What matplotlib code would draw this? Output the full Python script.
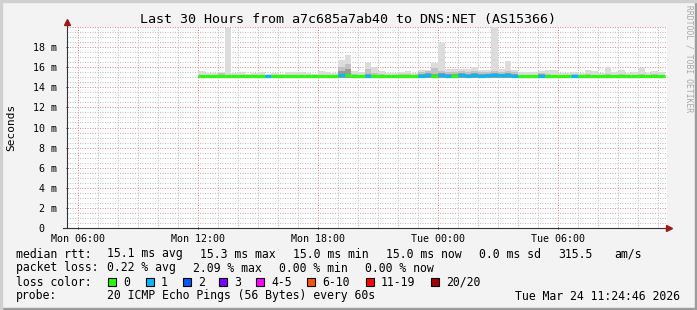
import matplotlib
matplotlib.use('Agg')
import matplotlib.pyplot as plt
import numpy as np
from matplotlib.patches import Rectangle

plt.rcParams['font.family'] = ['DejaVu Sans Mono']

# data: 20 minute bins starting Mon 12:00 (hours since Mon 00:00)
start_hour = 12.0
bin_hours = 1 / 3

# median rtt (ms)
median = [15.1, 15.1, 15.1, 15.1, 15.1, 15.1, 15.1, 15.1, 15.1, 15.1,
          15.1, 15.1, 15.1, 15.1, 15.1, 15.1, 15.1, 15.1, 15.1, 15.1,
          15.1, 15.2, 15.2, 15.1, 15.1, 15.15, 15.1, 15.1, 15.1, 15.1,
          15.1, 15.1, 15.1, 15.15, 15.2, 15.1, 15.25, 15.15, 15.1, 15.2,
          15.15, 15.2, 15.15, 15.2, 15.25, 15.2, 15.25, 15.15, 15.1, 15.1,
          15.1, 15.15, 15.1, 15.1, 15.1, 15.1, 15.1, 15.1, 15.1, 15.1,
          15.1, 15.1, 15.1, 15.1, 15.1, 15.1, 15.1, 15.1, 15.15, 15.1]
# highest ping in bin (ms)
top = [15.6, 15.4, 15.4, 15.5, 19.9, 15.4, 15.5, 15.3, 15.4, 15.5,
       15.3, 15.4, 15.3, 15.5, 15.5, 15.5, 15.4, 15.3, 15.6, 15.5,
       15.4, 16.7, 17.2, 15.65, 15.5, 16.5, 16.0, 15.65, 15.4, 15.4,
       15.55, 15.6, 15.4, 15.75, 15.75, 16.4, 18.4, 15.8, 15.8, 15.8,
       15.8, 16.0, 15.7, 15.7, 20.0, 15.8, 16.6, 15.7, 15.5, 15.55,
       15.5, 15.6, 15.7, 15.7, 15.4, 15.45, 15.5, 15.4, 15.75, 15.6,
       15.4, 16.0, 15.5, 15.7, 15.4, 15.5, 15.95, 15.4, 15.65, 15.5]
# upper smoke band (ms)
upper = [15.25, 15.25, 15.25, 15.45, 15.25, 15.25, 15.25, 15.25, 15.25, 15.25,
         15.25, 15.25, 15.25, 15.25, 15.25, 15.25, 15.25, 15.25, 15.25, 15.25,
         15.25, 16.0, 16.3, 15.3, 15.25, 15.8, 15.4, 15.3, 15.25, 15.25,
         15.3, 15.3, 15.25, 15.55, 15.6, 15.9, 15.6, 15.55, 15.5, 15.6,
         15.55, 15.6, 15.5, 15.55, 15.6, 15.55, 15.6, 15.5, 15.25, 15.25,
         15.25, 15.45, 15.3, 15.25, 15.25, 15.25, 15.3, 15.25, 15.3, 15.25,
         15.25, 15.3, 15.25, 15.3, 15.25, 15.25, 15.3, 15.25, 15.35, 15.25]
# dark core of the smoke (ms)
core = [15.0, 15.0, 15.0, 15.0, 15.0, 15.0, 15.0, 15.0, 15.0, 15.0,
        15.0, 15.0, 15.0, 15.0, 15.0, 15.0, 15.0, 15.0, 15.0, 15.0,
        15.0, 15.6, 15.8, 15.0, 15.0, 15.35, 15.0, 15.0, 15.0, 15.0,
        15.0, 15.0, 15.0, 15.35, 15.4, 15.3, 15.4, 15.35, 15.3, 15.4,
        15.35, 15.4, 15.3, 15.35, 15.4, 15.35, 15.4, 15.3, 15.0, 15.0,
        15.0, 15.3, 15.0, 15.0, 15.0, 15.0, 15.0, 15.0, 15.0, 15.0,
        15.0, 15.0, 15.0, 15.0, 15.0, 15.0, 15.0, 15.0, 15.2, 15.0]
# lost pings out of 20
loss = [0, 0, 0, 0, 0, 0, 0, 0, 0, 0,
        1, 0, 0, 0, 0, 0, 0, 0, 0, 0,
        0, 1, 0, 0, 0, 1, 0, 0, 0, 0,
        0, 0, 0, 1, 1, 0, 1, 1, 0, 1,
        1, 1, 1, 1, 1, 1, 1, 1, 0, 0,
        0, 1, 0, 0, 0, 0, 1, 0, 0, 0,
        0, 0, 0, 0, 0, 0, 0, 0, 0, 0]
smoke_floor = 14.95

loss_labels = ['0', '1', '2', '3', '4-5', '6-10', '11-19', '20/20']
loss_colors = ['#26ff00', '#00b8ff', '#0059ff', '#7e00ff',
               '#ff00ff', '#ff5500', '#ff0000', '#a10000']

x_ticks = [6, 12, 18, 24, 30]
x_labels = ['Mon 06:00', 'Mon 12:00', 'Mon 18:00', 'Tue 00:00', 'Tue 06:00']
y_ticks = [0, 2, 4, 6, 8, 10, 12, 14, 16, 18]
y_labels = ['0  '] + ['%d m' % v for v in y_ticks[1:]]

rtt_line = [('median rtt:', 16), ('15.1 ms avg', 107), ('15.3 ms max', 200),
            ('15.0 ms min', 293), ('15.0 ms now', 386), ('0.0 ms sd', 479),
            ('315.5', 558), ('am/s', 614)]
loss_line = [('packet loss:', 16), ('0.22 % avg', 107), ('2.09 % max', 193),
             ('0.00 % min', 279), ('0.00 % now', 365)]
box_x = [108, 146, 183, 219, 256, 307, 366, 431]

W, H = 697, 310


def fx(px):
    return px / W


def fy(py):
    return 1 - py / H


fig = plt.figure(figsize=(W / 100, H / 100), dpi=100, facecolor='#f3f3f3')

# frame
fig.patches.append(Rectangle((0, 0), 1, 2 / H, transform=fig.transFigure, color='#9c9c9c'))
fig.patches.append(Rectangle((1 - 2 / W, 0), 2 / W, 1, transform=fig.transFigure, color='#9c9c9c'))
fig.patches.append(Rectangle((0, 1 - 2 / H), 1, 2 / H, transform=fig.transFigure, color='#d0d0d0'))
fig.patches.append(Rectangle((0, 0), 2 / W, 1, transform=fig.transFigure, color='#d0d0d0'))

ax = fig.add_axes([fx(67), fy(228), 600 / W, 201 / H])
ax.set_facecolor('white')
ax.set_xlim(5.45, 35.45)
ax.set_ylim(0, 20)

# grid
dots = (0, (1, 1.5))
for v in np.arange(0.5, 20.5, 0.5):
    if v % 2 == 0:
        continue
    ax.axhline(v, color='#c0c0c0', lw=0.72, ls=dots, zorder=0)
for v in range(6, 36):
    if v % 6 == 0:
        continue
    ax.axvline(v, color='#c0c0c0', lw=0.72, ls=dots, zorder=0)
for v in range(2, 21, 2):
    ax.axhline(v, color='#e49090', lw=0.72, ls=dots, zorder=0.5)
for v in x_ticks:
    ax.axvline(v, color='#e49090', lw=0.72, ls=dots, zorder=0.5)

# smoke
n = len(median)
lefts = start_hour + np.arange(n) * bin_hours
floor = np.full(n, smoke_floor)
ax.bar(lefts, np.array(top) - floor, bottom=floor, width=bin_hours, align='edge',
       color='#dcdcdc', linewidth=0, zorder=2)
ax.bar(lefts, np.array(upper) - floor, bottom=floor, width=bin_hours, align='edge',
       color='#c2c2c2', linewidth=0, zorder=3)
ax.bar(lefts, np.array(core) - floor, bottom=floor, width=bin_hours, align='edge',
       color='#9a9a9a', linewidth=0, zorder=4)

# median line coloured by loss
seg_colors = [loss_colors[min(l, 1)] for l in loss]
ax.hlines(median, lefts, lefts + bin_hours, colors=seg_colors, lw=2.3, zorder=5)

# axes
for s in ax.spines.values():
    s.set_visible(False)
ax.plot([0, 0], [0, 1.02], transform=ax.transAxes, color='#333333', lw=0.8, clip_on=False, zorder=6)
ax.plot([-0.006, 1.0], [0, 0], transform=ax.transAxes, color='#333333', lw=0.8, clip_on=False, zorder=6)
ax.plot(0, 1.025, marker='^', ms=4.5, color='#a01818', transform=ax.transAxes, clip_on=False, zorder=7)
ax.plot(1.004, 0, marker='>', ms=4.5, color='#a01818', transform=ax.transAxes, clip_on=False, zorder=7)

ax.set_xticks(x_ticks)
ax.set_xticklabels(x_labels)
ax.set_yticks(y_ticks)
ax.set_yticklabels(y_labels)
ax.tick_params(axis='both', labelsize=7.2, length=2, width=0.7, color='#333333', direction='inout')
ax.tick_params(axis='x', pad=3)
ax.tick_params(axis='y', pad=6)

ax.set_ylabel('Seconds', fontsize=8)
ax.yaxis.set_label_coords(-0.085, 0.5)

fig.text(0.5, fy(19), 'Last 30 Hours from a7c685a7ab40 to DNS:NET (AS15366)',
         ha='center', va='center', fontsize=9.6)
fig.text(fx(689), fy(5), 'RRDTOOL / TOBI OETIKER', rotation=270, ha='center', va='top',
         fontsize=5.8, color='#a8a8a8')

# legend
for txt, px in rtt_line:
    fig.text(fx(px), fy(254), txt, ha='left', va='center', fontsize=8.3)
for txt, px in loss_line:
    fig.text(fx(px), fy(268), txt, ha='left', va='center', fontsize=8.3)
fig.text(fx(16), fy(282), 'loss color:', ha='left', va='center', fontsize=8.3)
for bx, lab, col in zip(box_x, loss_labels, loss_colors):
    fig.patches.append(Rectangle((fx(bx), fy(286)), 8 / W, 8 / H, transform=fig.transFigure,
                                 facecolor=col, edgecolor='black', lw=0.8))
    fig.text(fx(bx + 15), fy(282), lab, ha='left', va='center', fontsize=8.3)
fig.text(fx(16), fy(296), 'probe:', ha='left', va='center', fontsize=8.3)
fig.text(fx(107), fy(296), '20 ICMP Echo Pings (56 Bytes) every 60s', ha='left', va='center', fontsize=8.3)
fig.text(fx(680), fy(296), 'Tue Mar 24 11:24:46 2026', ha='right', va='center', fontsize=8.3)

fig.savefig('out.png', dpi=100, facecolor=fig.get_facecolor())
